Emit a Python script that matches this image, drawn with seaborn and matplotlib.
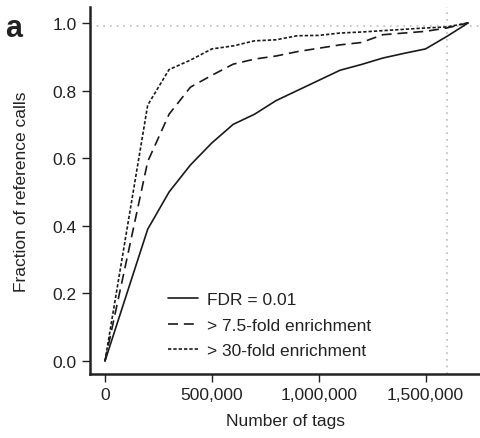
import pandas as pd
import numpy as np
import matplotlib.pyplot as plt
import seaborn as sns

# Data
tags = [0, 200000, 300000, 400000, 500000, 600000, 700000, 800000, 900000,
        1000000, 1100000, 1200000, 1300000, 1400000, 1500000, 1600000, 1700000]
fdr = [0.0, 0.39, 0.50, 0.58, 0.645, 0.70, 0.73, 0.77, 0.80,
       0.83, 0.86, 0.877, 0.896, 0.91, 0.923, 0.96, 1.0]
fold_7_5 = [0.0, 0.59, 0.73, 0.81, 0.845, 0.878, 0.893, 0.902, 0.915,
            0.925, 0.935, 0.942, 0.965, 0.97, 0.975, 0.985, 1.0]
fold_30 = [0.0, 0.757, 0.862, 0.89, 0.923, 0.932, 0.947, 0.95, 0.962,
           0.963, 0.97, 0.973, 0.977, 0.981, 0.985, 0.988, 1.0]
labels = ["FDR = 0.01", "> 7.5-fold enrichment", "> 30-fold enrichment"]
x_ticks = [0, 500000, 1000000, 1500000]
y_ticks = [0.0, 0.2, 0.4, 0.6, 0.8, 1.0]

df = pd.DataFrame({
    "tags": tags * 3,
    "frac": fdr + fold_7_5 + fold_30,
    "series": [labels[0]] * len(tags) + [labels[1]] * len(tags) + [labels[2]] * len(tags),
})

sns.set_style("ticks")
plt.rcParams['font.family'] = ['Liberation Sans', 'DejaVu Sans']
fs = 12.5

fig = plt.figure(figsize=(4.8, 4.39), dpi=100)
ax = fig.add_axes([0.1875, 0.1458, 0.8125, 0.836])

# Reference guide lines
ax.axhline(0.99, color='#bbbbbb', linestyle=(0, (1, 3)), linewidth=1.2, zorder=0)
ax.axvline(1600000, color='#bbbbbb', linestyle=(0, (1, 3)), linewidth=1.2, zorder=0)

sns.lineplot(data=df, x="tags", y="frac", style="series", color='#1a1a1a',
             dashes={labels[0]: "", labels[1]: (6, 3.5), labels[2]: (2, 1.2)},
             linewidth=1.2, ax=ax)

ax.set_xlim(-70000, 1755000)
ax.set_ylim(-0.038, 1.047)
ax.set_xticks(x_ticks)
ax.set_xticklabels(["0", "500,000", "1,000,000", "1,500,000"])
ax.set_yticks(y_ticks)
ax.set_yticklabels([f"{v:.1f}" for v in y_ticks])
ax.tick_params(labelsize=fs, length=6, width=1, color='#222222', labelcolor='#222222')
for side in ['left', 'bottom']:
    ax.spines[side].set_linewidth(1.8)
    ax.spines[side].set_color('#222222')
sns.despine(ax=ax)

ax.set_xlabel("Number of tags", fontsize=fs, color='#222222', labelpad=8)
ax.set_ylabel("Fraction of reference calls", fontsize=fs, color='#222222', labelpad=17)

leg = ax.legend(loc='lower left', bbox_to_anchor=(0.16, 0.0), frameon=False,
                fontsize=fs, handlelength=1.75, handletextpad=0.5, labelspacing=0.6)
for t in leg.get_texts():
    t.set_color('#222222')

fig.text(0.01, 0.934, "a", fontsize=22, fontweight='bold', color='#222222', va='center')

plt.savefig("out.png", dpi=100)
plt.close()
